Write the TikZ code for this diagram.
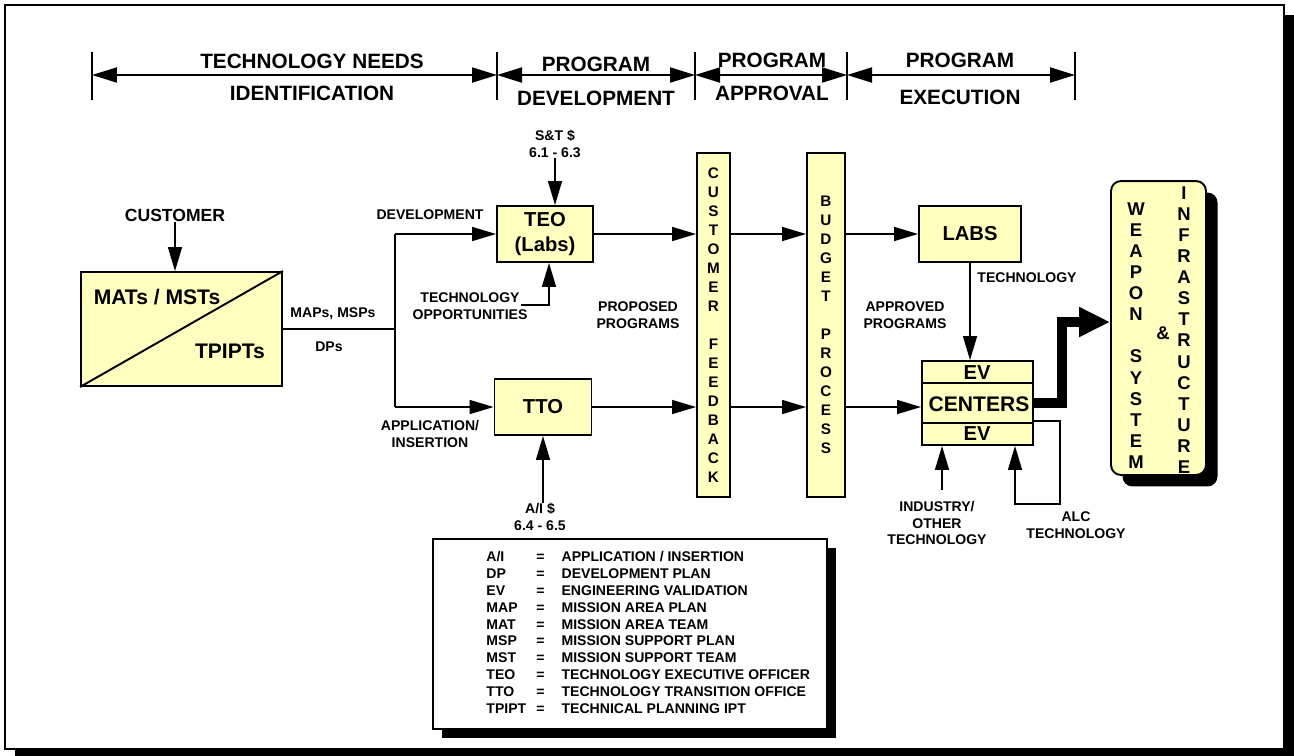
\documentclass[tikz,border=0pt]{standalone}
\usepackage{fontspec}
\setmainfont{Liberation Sans}
\usetikzlibrary{arrows.meta,calc,shadows}
\definecolor{boxyellow}{RGB}{255,255,192}

\begin{document}
\begin{tikzpicture}[x=0.02cm, y=-0.02cm,
    box/.style={draw, line width=1.1pt, fill=boxyellow, inner sep=0pt, align=center,
        font=\fontsize{11.5}{14.5}\selectfont\bfseries},
    bar/.style={box, font=\fontsize{8.7}{10.83}\selectfont\bfseries},
    vlet/.style={inner sep=0pt, align=center, font=\fontsize{10.5}{12.02}\selectfont\bfseries},
    lbl/.style={inner sep=0pt, align=center, font=\fontsize{8}{9.4}\selectfont\bfseries},
    phase/.style={inner sep=0pt, font=\fontsize{11.8}{13}\selectfont\bfseries},
    blackshadow/.style={drop shadow={shadow xshift=#1, shadow yshift=-#1, fill=black, opacity=1}},
    link/.style={draw, line width=0.85pt},
    arr/.style={link, -{Triangle[length=0.48cm,width=0.28cm]}},
    span/.style={draw, line width=1.1pt, {Triangle[length=0.5cm,width=0.3cm]}-{Triangle[length=0.5cm,width=0.3cm]}},
    fat/.style={draw, line width=6.2pt, -{Triangle[length=0.62cm,width=0.56cm]}}]

    \useasboundingbox (0,0) rectangle (1294,755);
    \node[draw, line width=1.1pt, fill=white, minimum width=25.58cm, minimum height=14.88cm,
        blackshadow=0.2cm] (frame) at (644.5,377) {};

    % phases
    \foreach \x [count=\i from 0] in {92,497,695,847,1075}
        \coordinate (ph\i) at (\x,75);
    \foreach \i in {0,...,4}
        \draw[line width=1.1pt] ($(ph\i)+(0,-23)$) -- ($(ph\i)+(0,25)$);
    \draw[span] (ph0) -- (ph1);
    \draw[span] (ph1) -- (ph2);
    \draw[span] (ph2) -- (ph3);
    \draw[span] (ph3) -- (ph4);
    \node[phase] (tneeds) at (312,61) {TECHNOLOGY NEEDS};
    \node[phase] (tident) at (312,93) {IDENTIFICATION};
    \node[phase] (pdev) at (596,64) {PROGRAM};
    \node[phase] (pdevb) at (596,98) {DEVELOPMENT};
    \node[phase] (pappr) at (772,60) {PROGRAM};
    \node[phase] (papprb) at (772,93) {APPROVAL};
    \node[phase] (pexec) at (960,60) {PROGRAM};
    \node[phase] (pexecb) at (960,97) {EXECUTION};

    % needs identification
    \node[box, minimum width=4.02cm, minimum height=2.28cm] (mat) at (181.5,329) {};
    \draw[line width=1.1pt] (mat.south west) -- (mat.north east);
    \node[inner sep=0pt, font=\fontsize{12}{14}\selectfont\bfseries] (matl) at (157,297) {MATs / MSTs};
    \node[inner sep=0pt, font=\fontsize{12}{14}\selectfont\bfseries] (tpipt) at (230,351) {TPIPTs};
    \node[inner sep=0pt, font=\fontsize{10}{12}\selectfont\bfseries] (cust) at (175,215) {CUSTOMER};
    \draw[arr] (cust.south) -- (cust.south |- mat.north);
    \node[lbl] (maps) at (333,314) {MAPs, MSPs};
    \node[lbl] (dps) at (329,347) {DPs};

    % development
    \node[box, minimum width=1.92cm, minimum height=1.12cm] (teo) at (545,234) {TEO\\(Labs)};
    \node[box, minimum width=1.94cm, minimum height=1.12cm] (tto) at (543,407) {TTO};
    \coordinate (split) at (395,329);
    \draw[link] (mat.east) -- (split);
    \draw[link] (split |- teo.west) -- (split |- tto.west);
    \draw[arr] (split |- teo.west) -- (teo.west);
    \draw[arr] (split |- tto.west) -- (tto.west);
    \node[lbl] (devl) at (430,215) {DEVELOPMENT};
    \node[lbl] (appl) at (430,434) {APPLICATION/\\INSERTION};
    \node[lbl] (st) at (555,144) {S\&T \$\\6.1 - 6.3};
    \draw[arr] (st.south) -- (st.south |- teo.north);
    \node[lbl] (topp) at (470,306) {TECHNOLOGY\\OPPORTUNITIES};
    \coordinate (toppa) at (521,305);
    \coordinate (toppb) at (549,305);
    \draw[arr] (toppa) -- (toppb) -- (toppb |- teo.south);
    \node[lbl] (ai) at (540,517) {A/I \$\\6.4 - 6.5};
    \draw[arr] (tto.south |- ai.north) -- (tto.south);
    \node[lbl] (prop) at (638,315) {PROPOSED\\PROGRAMS};

    % approval
    \node[bar, minimum width=0.66cm, minimum height=6.88cm] (cf) at (713.5,325)
        {C\\U\\S\\T\\O\\M\\E\\R\\[10.83pt]F\\E\\E\\D\\B\\A\\C\\K};
    \node[bar, minimum width=0.76cm, minimum height=6.88cm] (bp) at (826,325)
        {B\\U\\D\\G\\E\\T\\[10.83pt]P\\R\\O\\C\\E\\S\\S};
    \draw[arr] (teo.east) -- (teo.east -| cf.west);
    \draw[arr] (tto.east) -- (tto.east -| cf.west);
    \draw[arr] (cf.east |- teo.east) -- (bp.west |- teo.east);
    \draw[arr] (cf.east |- tto.east) -- (bp.west |- tto.east);

    % execution
    \node[box, minimum width=2.04cm, minimum height=1.12cm] (labs) at (970,234) {LABS};
    \node[box, minimum width=2.22cm, minimum height=1.68cm] (cen) at (977.5,403) {};
    \draw[line width=1.1pt] (cen.west |- 0,383) -- (cen.east |- 0,383);
    \draw[line width=1.1pt] (cen.west |- 0,423) -- (cen.east |- 0,423);
    \node[inner sep=0pt, font=\fontsize{11.5}{13}\selectfont\bfseries] (evtop) at (977,373) {EV};
    \node[inner sep=0pt, font=\fontsize{12}{14}\selectfont\bfseries] (centers) at (979,404) {CENTERS};
    \node[inner sep=0pt, font=\fontsize{11.5}{13}\selectfont\bfseries] (evbot) at (977,434) {EV};
    \draw[arr] (bp.east |- labs.west) -- (labs.west);
    \draw[arr] (bp.east |- tto.east) -- (cen.west |- tto.east);
    \draw[arr] (labs.south) -- (labs.south |- cen.north);
    \node[lbl] (techl) at (1027,278) {TECHNOLOGY};
    \node[lbl] (appr) at (905,315) {APPROVED\\PROGRAMS};
    \node[lbl] (ind) at (937,523) {INDUSTRY/\\OTHER\\TECHNOLOGY};
    \coordinate (indf) at (942,490);
    \draw[arr] (indf) -- (indf |- cen.south);
    \node[lbl] (alc) at (1076,525) {ALC\\TECHNOLOGY};
    \coordinate (alca) at (1060,504);
    \coordinate (alcb) at (1015,504);
    \draw[arr] (cen.east |- 0,421) -| (alca) -- (alcb) -- (alcb |- cen.south);

    % weapon system
    \node[box, rounded corners=0.2cm, minimum width=1.9cm, minimum height=5.88cm,
        blackshadow=0.23cm] (weap) at (1158.5,328) {};
    \node[vlet] (wpn) at (1136,335.5) {W\\E\\A\\P\\O\\N\\[12.02pt]S\\Y\\S\\T\\E\\M};
    \node[vlet] (amp) at (1163,333) {\&};
    \node[vlet] (infra) at (1184,330) {I\\N\\F\\R\\A\\S\\T\\R\\U\\C\\T\\U\\R\\E};
    \coordinate (fatb) at (1062,322);
    \draw[fat] (cen.east) -| (fatb) -- (weap.west |- fatb);

    % legend
    \node[draw, line width=1.1pt, fill=white, minimum width=7.88cm, minimum height=3.8cm,
        blackshadow=0.18cm] (leg) at (630,634) {};
    \node[anchor=north west, inner sep=0pt, font=\fontsize{8}{9.64}\selectfont\bfseries]
        (legtab) at ($(leg.north west)+(54,11)$) {%
        \begin{tabular}{@{}p{1.0cm}@{}c@{\hspace{0.34cm}}l@{}}
        A/I & = & APPLICATION / INSERTION\\
        DP & = & DEVELOPMENT PLAN\\
        EV & = & ENGINEERING VALIDATION\\
        MAP & = & MISSION AREA PLAN\\
        MAT & = & MISSION AREA TEAM\\
        MSP & = & MISSION SUPPORT PLAN\\
        MST & = & MISSION SUPPORT TEAM\\
        TEO & = & TECHNOLOGY EXECUTIVE OFFICER\\
        TTO & = & TECHNOLOGY TRANSITION OFFICE\\
        TPIPT & = & TECHNICAL PLANNING IPT
        \end{tabular}};
\end{tikzpicture}
\end{document}
